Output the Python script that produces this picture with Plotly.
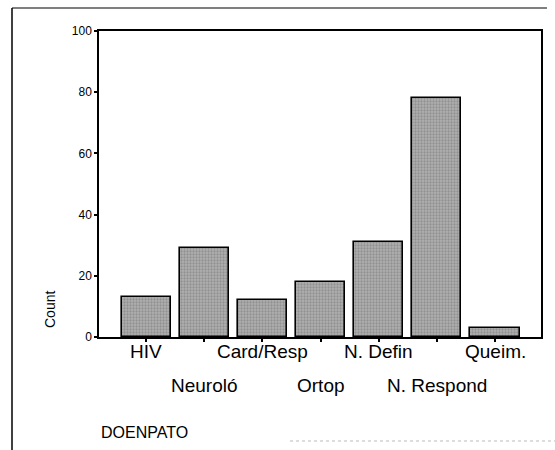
import plotly.graph_objects as go

categories = ["HIV", "Neuroló", "Card/Resp", "Ortop", "N. Defin", "N. Respond", "Queim."]
counts = [13, 29, 12, 18, 31, 78, 3]
y_ticks = [0, 20, 40, 60, 80, 100]
x_title = "DOENPATO"
y_title = "Count"

W, H = 555, 450
L, R, T, B = 99, 541, 31, 337  # plot-area pixel box


def px_x(p):
    return (p - L) / (R - L)


def px_y(p):
    return (B - p) / (B - T)


font = "Arial, Liberation Sans, sans-serif"
idx = list(range(len(categories)))

fig = go.Figure()
fig.add_trace(go.Bar(
    x=idx, y=counts, width=0.845,
    marker=dict(
        color="#a2a2a2",
        line=dict(color="black", width=1.6),
        pattern=dict(shape=".", fgcolor="#707070", bgcolor="#b0b0b0", size=3, solidity=0.45),
    ),
    showlegend=False, hoverinfo="skip",
))

annotations = []
for i, c in enumerate(categories):
    yc = -0.047 if i % 2 == 0 else -0.157
    annotations.append(dict(
        x=i, xref="x", y=yc, yref="paper", text=c, showarrow=False,
        xanchor="center", yanchor="middle", font=dict(family=font, size=19, color="black"),
    ))
annotations.append(dict(
    x=0, xref="paper", y=px_y(432), yref="paper", text=x_title, showarrow=False,
    xanchor="left", yanchor="middle", font=dict(family=font, size=16, color="black"),
))
annotations.append(dict(
    x=px_x(50), xref="paper", y=px_y(310), yref="paper", text=y_title, showarrow=False,
    textangle=-90, xanchor="center", yanchor="middle",
    font=dict(family=font, size=14, color="black"),
))

shapes = [
    dict(type="line", xref="paper", yref="paper", x0=px_x(12), x1=px_x(12),
         y0=px_y(8), y1=px_y(450), line=dict(color="black", width=1.5)),
    dict(type="line", xref="paper", yref="paper", x0=px_x(12), x1=px_x(547),
         y0=px_y(8), y1=px_y(8), line=dict(color="black", width=1.2)),
    dict(type="line", xref="paper", yref="paper", x0=px_x(290), x1=px_x(555),
         y0=px_y(441), y1=px_y(441), line=dict(color="#bbbbbb", width=1, dash="dot")),
]

fig.update_layout(
    width=W, height=H,
    margin=dict(l=L, r=W - R, t=T, b=H - B, pad=0),
    paper_bgcolor="white", plot_bgcolor="white",
    font=dict(family=font, color="black"),
    annotations=annotations, shapes=shapes,
    bargap=0,
)
fig.update_xaxes(
    range=[-0.81, 6.79], tickvals=idx, showticklabels=False,
    ticks="outside", ticklen=3, tickwidth=2, tickcolor="black",
    showline=True, linecolor="black", linewidth=1.5, mirror=True,
    showgrid=False, zeroline=False, fixedrange=True,
)
fig.update_yaxes(
    range=[0, 100], tickvals=y_ticks, ticktext=[str(v) for v in y_ticks],
    ticks="outside", ticklen=3, tickwidth=2, tickcolor="black",
    tickfont=dict(family=font, size=12, color="black"),
    showline=True, linecolor="black", linewidth=1.5, mirror=True,
    showgrid=False, zeroline=False, fixedrange=True,
)

fig.write_html(
    "out.html",
    config={"displayModeBar": False},
    post_script="document.body.style.margin='0';document.body.style.overflow='hidden';",
)
